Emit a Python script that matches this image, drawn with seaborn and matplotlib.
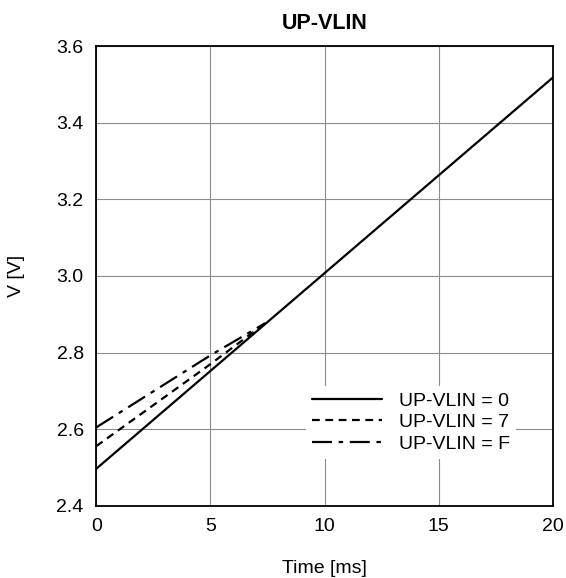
import pandas as pd
import seaborn as sns
import matplotlib.pyplot as plt

# values
t_0 = [0, 20]
v_0 = [2.497, 3.518]
t_7 = [0, 5, 7.4]
v_7 = [2.556, 2.770, 2.877]
t_f = [0, 5, 7.4]
v_f = [2.605, 2.793, 2.877]
labels = ['UP-VLIN = 0', 'UP-VLIN = 7', 'UP-VLIN = F']

sns.set_theme(style='white')
plt.rcParams['font.family'] = ['Liberation Sans', 'DejaVu Sans']
plt.rcParams['text.color'] = 'black'
plt.rcParams['axes.labelcolor'] = 'black'

fig = plt.figure(figsize=(5.66, 5.78), dpi=100)
ax = fig.add_axes([0.170, 0.1246, 0.807, 0.7958])

sns.lineplot(x=t_0, y=v_0, ax=ax, color='black', lw=1.6, label=labels[0])
sns.lineplot(x=t_7, y=v_7, ax=ax, color='black', lw=1.6, label=labels[1], dashes=False)
sns.lineplot(x=t_f, y=v_f, ax=ax, color='black', lw=1.6, label=labels[2], dashes=False)
ax.lines[1].set_dashes([3.5, 2.5])
ax.lines[2].set_dashes([9, 3, 2, 3])

ax.set_xlim(0, 20)
ax.set_ylim(2.4, 3.6)
ax.set_xticks([0, 5, 10, 15, 20])
ax.set_yticks([2.4, 2.6, 2.8, 3.0, 3.2, 3.4, 3.6])
ax.set_yticklabels(['2.4', '2.6', '2.8', '3.0', '3.2', '3.4', '3.6'])
ax.grid(True, color='#8c8c8c', lw=0.8)
for s in ax.spines.values():
    s.set_color('black')
    s.set_linewidth(1.3)
ax.tick_params(labelsize=14, colors='black', length=0, pad=9)

ax.set_xlabel('Time [ms]', fontsize=14, labelpad=18)
ax.set_ylabel('V [V]', fontsize=14, labelpad=23)
ax.set_title('UP-VLIN', fontsize=15.5, fontweight='bold', pad=12)

leg = ax.legend(loc='lower right', bbox_to_anchor=(0.94, 0.082), fontsize=14,
                handlelength=3.6, handletextpad=0.9, labelspacing=0.2,
                frameon=True, framealpha=1, facecolor='white', edgecolor='none',
                borderpad=0.3)
for h in leg.get_lines():
    h.set_linewidth(1.6)
leg.get_lines()[1].set_dashes([3.5, 2.5])
leg.get_lines()[2].set_dashes([9, 3, 2, 3])

plt.savefig('out.png', dpi=100, facecolor='w')
